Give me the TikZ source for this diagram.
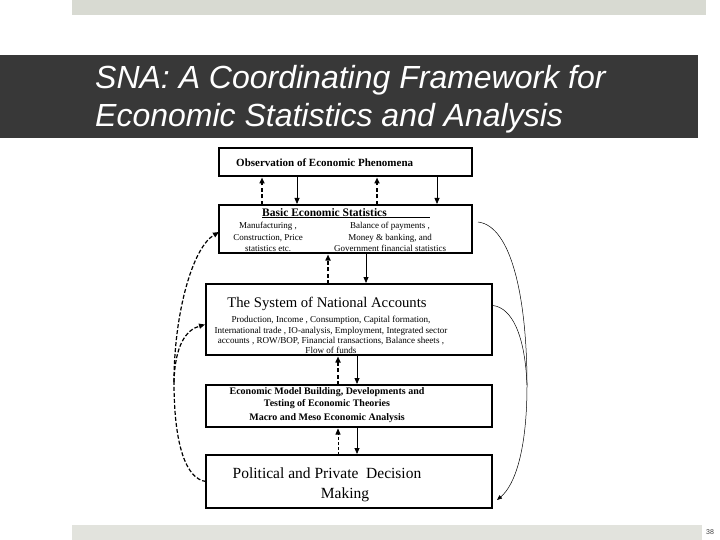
\documentclass[tikz,border=0pt]{standalone}
\usepackage{fontspec}
\setmainfont{Liberation Serif}
\newfontfamily\slidefont{Liberation Sans}
\definecolor{slidegray}{RGB}{216,218,210}
\definecolor{footgray}{RGB}{226,227,221}
\definecolor{titledark}{RGB}{56,56,56}
\usetikzlibrary{positioning,arrows.meta,calc}

\begin{document}
\begin{tikzpicture}[
  x=1pt, y=-1pt,
  box/.style={draw, line width=1.6pt, inner sep=0pt, outer sep=0pt},
  lbl/.style={inner sep=0pt, align=center},
  upflow/.style={-{Triangle[length=6pt,width=5pt]}, line width=1.5pt,
                 dash pattern=on 4pt off 2.5pt, shorten >=1.5pt},
  thinup/.style={-{Triangle[length=6pt,width=5pt]}, line width=0.7pt,
                 dash pattern=on 3pt off 2pt, shorten >=1.5pt},
  downflow/.style={-{Triangle[length=6pt,width=5pt]}, line width=0.8pt,
                   shorten >=1pt},
  backline/.style={line width=1.2pt, dash pattern=on 4pt off 2pt},
  backflow/.style={backline, -{Triangle[length=6pt,width=5pt]}},
  feedline/.style={line width=0.5pt},
  feedflow/.style={feedline, -{Triangle[length=5pt,width=4pt]}},
]
\useasboundingbox (0,0) rectangle (720,540);

% --- slide frame ---
\fill[slidegray] (72,0) rectangle (706,15);
\fill[footgray] (72,525) rectangle (702,540);
\fill[titledark] (0,55) rectangle (698,138);
\node[anchor=north west, inner sep=0pt, text=white, align=left,
      font=\slidefont\itshape\fontsize{32}{38}\selectfont] (title) at (95,65)
  {SNA: A Coordinating Framework for\\Economic Statistics and Analysis};
\node[inner sep=0pt, text=black!75, font=\slidefont\fontsize{7}{8}\selectfont]
  (pagenum) at (710,532) {38};

% --- boxes ---
\node[box, minimum width=253pt, minimum height=28pt] (obs) at (345.5,162) {};
\node[box, minimum width=253pt, minimum height=48pt] (basic) at (345.5,229) {};
\node[box, minimum width=286pt, minimum height=71pt] (sna) at (349,319.5) {};
\node[box, minimum width=286pt, minimum height=42pt] (model) at (349,406) {};
\node[box, minimum width=286pt, minimum height=53pt] (decide) at (349,481.5) {};

% --- texts ---
\node[lbl, anchor=west, font=\bfseries\fontsize{11}{13}\selectfont] (obstext)
  at (236,163) {Observation of Economic Phenomena};

\node[lbl, anchor=base west, font=\bfseries\fontsize{11.5}{13}\selectfont] (basictitle)
  at (262,216) {Basic Economic Statistics};
\draw[line width=1pt] ([yshift=-2pt]basictitle.base west) -- ++(168,0);
\node[lbl, font=\fontsize{9}{11.5}\selectfont] (basicleft) at (268,237)
  {Manufacturing ,\\ Construction, Price\\ statistics etc.};
\node[lbl, font=\fontsize{9}{11.5}\selectfont] (basicright) at (390,237)
  {Balance of payments ,\\ Money \& banking, and\\ Government financial statistics};

\node[lbl, font=\fontsize{14.7}{16}\selectfont] (snatitle) at (327,304)
  {The System of National Accounts};
\node[lbl, font=\fontsize{9.1}{10.3}\selectfont] (snatext) at (331,335)
  {Production, Income , Consumption, Capital formation,\\
   International trade , IO-analysis, Employment, Integrated sector\\
   accounts , ROW/BOP, Financial transactions, Balance sheets ,\\
   Flow of funds};

\node[lbl, font=\bfseries\fontsize{10}{12}\selectfont] (modeltext) at (327,405)
  {Economic Model Building, Developments and\\
   Testing of Economic Theories\\[1.5pt]
   Macro and Meso Economic Analysis};

\node[lbl, font=\fontsize{15.5}{19.5}\selectfont] (decidetext) at (327,485)
  {Political and Private\ \ Decision\\ \hspace*{36pt}Making};

% --- vertical flows ---
\draw[upflow] (262,0 |- basic.north) -- (262,0 |- obs.south);
\draw[downflow] (297,0 |- obs.south) -- (297,0 |- basic.north);
\draw[upflow] (377,0 |- basic.north) -- (377,0 |- obs.south);
\draw[downflow] (437,0 |- obs.south) -- (437,0 |- basic.north);

\draw[upflow] (328,0 |- sna.north) -- (328,0 |- basic.south);
\draw[downflow] (366,0 |- basic.south) -- (366,0 |- sna.north);

\draw[upflow] (338,0 |- model.north) -- (338,0 |- sna.south);
\draw[downflow] (357,0 |- sna.south) -- (357,0 |- model.north);

\draw[thinup] (338,0 |- decide.north) -- (338,0 |- model.south);
\draw[downflow] (357,0 |- model.south) -- (357,0 |- decide.north);

% --- feedback, left (dashed) ---
\coordinate (lsplit) at (174,382);
\draw[backline] (decide.west) .. controls (186,479) and (174,445) .. (lsplit);
\draw[backflow] (lsplit) .. controls (174,315) and (192,248) .. ($(basic.west)+(0,3)$);
\draw[backflow] (lsplit) .. controls (175,345) and (186,330) .. ($(sna.west)+(-1,5)$);

% --- feedback, right (thin) ---
\coordinate (rjoin) at (527,385);
\draw[feedline] ($(basic.east)+(6,-7)$) .. controls (512,226) and (527,300) .. (rjoin);
\draw[feedline] ($(sna.east)+(1,-14)$) .. controls (512,308) and (525,335) .. (rjoin);
\draw[feedflow] (rjoin) .. controls (527,450) and (515,485) .. ($(decide.south east)+(5,-8)$);
\end{tikzpicture}
\end{document}
